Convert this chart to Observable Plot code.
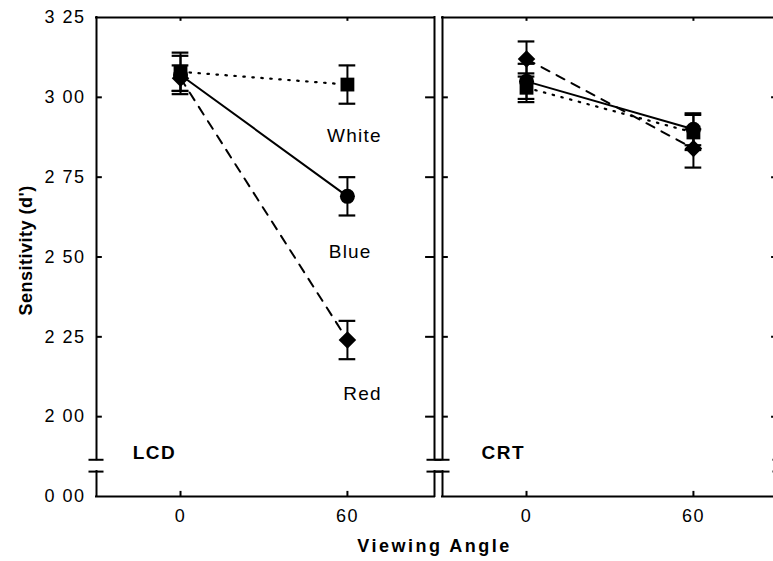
<!DOCTYPE html>
<html>
<head>
<meta charset="utf-8">
<script src="https://cdn.jsdelivr.net/npm/d3@7"></script>
<script src="https://cdn.jsdelivr.net/npm/@observablehq/plot@0.6"></script>
<style>
  html, body { margin: 0; padding: 0; background: #fff; overflow: hidden; }
  #wrap { width: 773px; height: 561px; overflow: hidden; }
  #wrap svg { max-width: none !important; }
</style>
</head>
<body>
<div id="wrap"></div>
<script>
// ---- data ----
const panels = ["LCD", "CRT"];
const angles = [0, 60];
const seriesNames = ["White", "Blue", "Red"];

const lcdWhite = [3.08, 3.04];
const lcdWhiteErr = [0.06, 0.06];
const lcdBlue = [3.07, 2.69];
const lcdBlueErr = [0.06, 0.06];
const lcdRed = [3.06, 2.24];
const lcdRedErr = [0.04, 0.06];

const crtWhite = [3.03, 2.89];
const crtWhiteErr = [0.045, 0.055];
const crtBlue = [3.05, 2.90];
const crtBlueErr = [0.055, 0.05];
const crtRed = [3.12, 2.84];
const crtRedErr = [0.055, 0.06];

const xTicks = [0, 60];
const yTickValues = [1.75, 2.00, 2.25, 2.50, 2.75, 3.00, 3.25];
const yTickLabels = ["0 00", "2 00", "2 25", "2 50", "2 75", "3 00", "3 25"];

const xTitle = "Viewing Angle";
const yTitle = "Sensitivity (d')";

// ---- table built from the arrays ----
const table = {
  LCD: {White: [lcdWhite, lcdWhiteErr], Blue: [lcdBlue, lcdBlueErr], Red: [lcdRed, lcdRedErr]},
  CRT: {White: [crtWhite, crtWhiteErr], Blue: [crtBlue, crtBlueErr], Red: [crtRed, crtRedErr]}
};
const rows = [];
for (const p of panels) for (const s of seriesNames) angles.forEach((a, i) => {
  rows.push({panel: p, series: s, angle: a, value: table[p][s][0][i], err: table[p][s][1][i]});
});

// ---- layout constants ----
const xMin = -30.2, xMax = 91.3;
const yBot = 1.75, yTop = 3.25;
const breakHi = 1.865, breakLo = 1.828;
const innerTicks = yTickValues.slice(1, -1);

const diamond = {
  draw(ctx, size) {
    const s = Math.sqrt(size / 2);
    ctx.moveTo(0, -s); ctx.lineTo(s, 0); ctx.lineTo(0, s); ctx.lineTo(-s, 0); ctx.closePath();
  }
};

const annotations = [
  {panel: "LCD", text: "White", x: 62.5, y: 2.88},
  {panel: "LCD", text: "Blue", x: 61, y: 2.516},
  {panel: "LCD", text: "Red", x: 65.4, y: 2.072}
];
const panelLabels = [
  {panel: "LCD", text: "LCD", x: -17.2, y: 1.886},
  {panel: "CRT", text: "CRT", x: -16.2, y: 1.886}
];

const bySeries = s => rows.filter(d => d.series === s);
const frameStyle = {stroke: "black", strokeWidth: 2, strokeLinecap: "square"};

const chart = Plot.plot({
  width: 780,
  height: 561,
  marginLeft: 96,
  marginRight: 0,
  marginTop: 17,
  marginBottom: 65,
  style: {fontFamily: "'Liberation Sans', Arial, sans-serif", fontSize: "18px", background: "white", color: "black", maxWidth: "none"},
  fx: {domain: panels, paddingInner: 8 / 346, paddingOuter: 0, round: false, axis: null, label: null},
  x: {domain: [xMin, xMax], ticks: xTicks, tickSize: 0, tickPadding: 13, label: null},
  y: {domain: [yBot, yTop], ticks: yTickValues, tickFormat: (d, i) => yTickLabels[yTickValues.indexOf(d)], tickSize: 0, tickPadding: 11, label: null},
  marks: [
    // panel frames with axis break
    Plot.ruleY([yTop, yBot], {x1: xMin, x2: xMax, ...frameStyle}),
    Plot.ruleX([xMin, xMax], {y1: breakHi, y2: yTop, ...frameStyle}),
    Plot.ruleX([xMin, xMax], {y1: yBot, y2: breakLo, ...frameStyle}),
    Plot.ruleY([breakHi, breakLo], {x1: xMin - 2.7, x2: xMin + 2.7, stroke: "black", strokeWidth: 2}),
    Plot.ruleY([breakHi, breakLo], {x1: xMax - 2.7, x2: xMax + 2.7, stroke: "black", strokeWidth: 2}),
    // inward ticks
    Plot.ruleY(innerTicks, {x1: xMin, x2: xMin + 2.1, stroke: "black", strokeWidth: 2}),
    Plot.ruleY(innerTicks, {x1: xMax - 3.2, x2: xMax, stroke: "black", strokeWidth: 2}),
    Plot.ruleX(xTicks, {y1: yTop, y2: yTop - 0.012, stroke: "black", strokeWidth: 2}),
    Plot.ruleX(xTicks, {y1: yBot, y2: yBot + 0.016, stroke: "black", strokeWidth: 2}),
    // lines
    Plot.line(bySeries("White"), {fx: "panel", x: "angle", y: "value", stroke: "black", strokeWidth: 2.2, strokeDasharray: "1.5,7.5", strokeLinecap: "round"}),
    Plot.line(bySeries("Blue"), {fx: "panel", x: "angle", y: "value", stroke: "black", strokeWidth: 2}),
    Plot.line(bySeries("Red"), {fx: "panel", x: "angle", y: "value", stroke: "black", strokeWidth: 2, strokeDasharray: "9,8"}),
    // error bars
    Plot.ruleX(rows, {fx: "panel", x: "angle", y1: d => d.value - d.err, y2: d => d.value + d.err, stroke: "black", strokeWidth: 2}),
    Plot.ruleY(rows, {fx: "panel", y: d => d.value + d.err, x1: d => d.angle - 3, x2: d => d.angle + 3, stroke: "black", strokeWidth: 2.2}),
    Plot.ruleY(rows, {fx: "panel", y: d => d.value - d.err, x1: d => d.angle - 3, x2: d => d.angle + 3, stroke: "black", strokeWidth: 2.2}),
    // markers
    Plot.dot(bySeries("Red"), {fx: "panel", x: "angle", y: "value", symbol: diamond, r: 7, fill: "black", stroke: "none"}),
    Plot.dot(bySeries("Blue"), {fx: "panel", x: "angle", y: "value", symbol: "circle", r: 7.5, fill: "black", stroke: "none"}),
    Plot.dot(bySeries("White"), {fx: "panel", x: "angle", y: "value", symbol: "square", r: 7.8, fill: "black", stroke: "none"}),
    // series labels
    Plot.text(annotations, {fx: "panel", x: "x", y: "y", text: "text", fontSize: 19, textAnchor: "middle", lineAnchor: "middle", fill: "black"}),
    Plot.text(panelLabels, {fx: "panel", x: "x", y: "y", text: "text", fontSize: 19, fontWeight: "bold", textAnchor: "start", lineAnchor: "middle", fill: "black"}),
    // axis titles
    Plot.text([{panel: "LCD", text: xTitle}], {fx: "panel", x: xMax, y: yBot - 0.156, text: "text", fontSize: 18, fontWeight: "bold", textAnchor: "middle", lineAnchor: "middle", fill: "black"}),
    Plot.text([{panel: "LCD", text: yTitle}], {fx: "panel", x: xMin - 25.3, y: 2.521, text: "text", rotate: -90, fontSize: 18, fontWeight: "bold", textAnchor: "middle", lineAnchor: "middle", fill: "black"})
  ]
});

d3.select(chart).selectAll("text").each(function () {
  const t = this.textContent;
  let ls = "1.5px";
  if (t === xTitle) ls = "2.5px";
  else if (t === yTitle) ls = "0.5px";
  else if (t === "LCD" || t === "CRT") ls = "1.5px";
  else if (t === "White" || t === "Blue" || t === "Red") ls = "1.2px";
  d3.select(this).style("letter-spacing", ls);
});

document.getElementById("wrap").appendChild(chart);
</script>
</body>
</html>
